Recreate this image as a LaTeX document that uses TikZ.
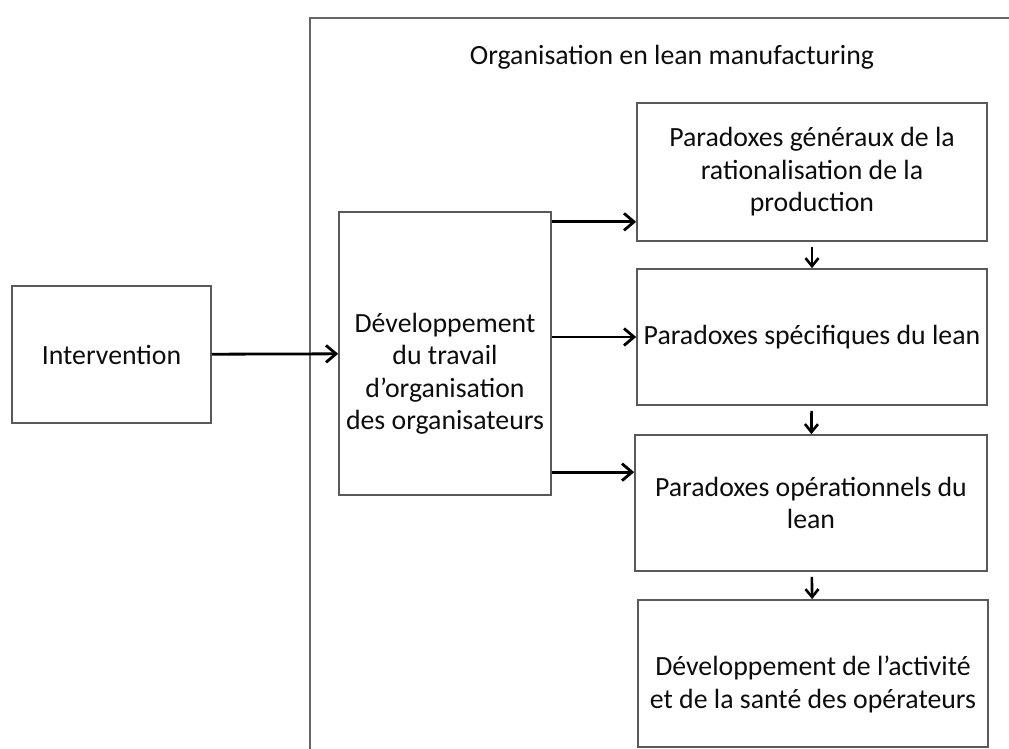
\documentclass[tikz,border=0pt]{standalone}
\usepackage{fontspec}
\setmainfont{Carlito}
\usetikzlibrary{arrows.meta}
\begin{document}
\begin{tikzpicture}[x=1bp,y=-1bp,
		texte/.style={align=center,text=black!95,inner sep=0pt,font=\fontsize{27.8bp}{32.5bp}\selectfont},
		boite/.style={texte,draw=black!65,line width=1.7bp},
		fleche/.style={line width=2.8bp,-{Straight Barb[length=10bp,width=17bp]}},
		petite/.style={line width=2.6bp,-{Straight Barb[length=8bp,width=13bp]},shorten <=5bp}]
		\useasboundingbox (0,0) rectangle (1009,749);
		% cadre de l'organisation
		\draw[line width=1.7bp,black!60] (310,770) -- (310,18) -- (1030,18);
		\node[texte] (titre) at (672,57) {Organisation en lean manufacturing};
		
		\node[boite,minimum width=199bp,minimum height=137bp] (interv) at (111.5,354.5) {Intervention};
		\node[boite,minimum width=212bp,minimum height=283bp] (dev) at (445,353.5) {};
		\node[texte] (devtxt) at ([yshift=-20bp]dev.center) {Développement\\du travail\\d’organisation\\des organisateurs};
		\node[boite,minimum width=350bp,minimum height=138bp] (parA) at (812,172) {Paradoxes généraux de la\\rationalisation de la\\production};
		\node[boite,minimum width=350bp,minimum height=136bp] (parB) at (812,337) {Paradoxes spécifiques du lean};
		\node[boite,minimum width=352bp,minimum height=136bp] (parC) at (811,503) {Paradoxes opérationnels du\\lean};
		\node[boite,minimum width=350bp,minimum height=147bp] (parD) at (813,673.5) {};
		\node[texte] (parDtxt) at ([yshift=-11bp]parD.center) {Développement de l’activité\\et de la santé des opérateurs};
		
		\coordinate (entreeA) at ([yshift=20bp]parA.south west);
		\coordinate (entreeC) at ([yshift=-38bp]parC.north west);
		
		\draw[fleche] (interv) -- (dev);
		\draw[fleche] (dev.east |- entreeA) -- (entreeA);
		\draw[fleche] (dev.east |- parB.west) -- (parB.west);
		\draw[fleche] (dev.east |- entreeC) -- (entreeC);
		
		\draw[petite] (parA) -- (parB);
		\draw[petite] (parB) -- (parC);
		\draw[petite] (parC) -- (parD);
\end{tikzpicture}
\end{document}
